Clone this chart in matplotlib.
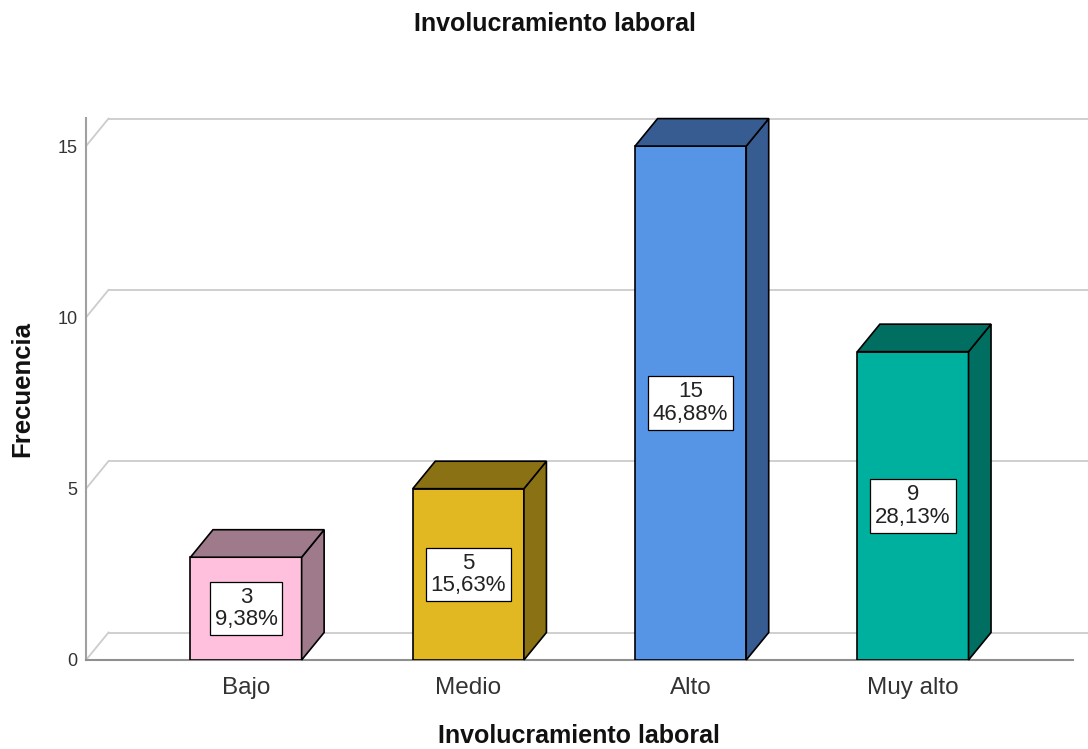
# Involucramiento laboral - Balkendiagramm im SPSS-3D-Stil
import matplotlib.pyplot as plt
from matplotlib.patches import Polygon

plt.rcParams['font.family'] = ['Liberation Sans', 'DejaVu Sans']

# Daten:
categorias = ['Bajo', 'Medio', 'Alto', 'Muy alto']
frecuencias = [3, 5, 15, 9]
porcentajes = ['9,38%', '15,63%', '46,88%', '28,13%']
frente = ['#FFC0DE', '#E1B822', '#5695E5', '#00B09E']
lado = ['#9E7A8A', '#8A7114', '#375C91', '#006E61']
yticks = [0, 5, 10, 15]

W, H = 1088, 749
fig = plt.figure(figsize=(W / 100, H / 100), dpi=100)
ax = fig.add_axes([86 / W, 89 / H, 987 / W, 542 / H])
xmin, xmax = -0.72, 3.72
ymin, ymax = 0, 15.82
ax.set_xlim(xmin, xmax)
ax.set_ylim(ymin, ymax)

# Tiefe (Pixel -> Datenkoordinaten)
px_x = 987 / (xmax - xmin)
px_y = 542 / (ymax - ymin)
dx = 22.5 / px_x
dy = 27.5 / px_y

# Rueckwand-Gitter
gris = '#CCCCCC'
for v in yticks:
    ax.plot([xmin + dx, xmax + dx + 1], [v + dy, v + dy], color=gris, lw=1.3,
            clip_on=False, zorder=1)
    ax.plot([xmin, xmin + dx], [v, v + dy], color=gris, lw=1.3,
            clip_on=False, zorder=1)

# Achsenlinien vorne
ax.plot([xmin, xmin], [0, ymax], color='#A0A0A0', lw=1.5, clip_on=False, zorder=2)
ax.plot([xmin, xmax], [0, 0], color='#909090', lw=1.5, clip_on=False, zorder=2)

ancho = 0.5
for i, (h, c1, c2) in enumerate(zip(frecuencias, frente, lado)):
    x0, x1 = i - ancho / 2, i + ancho / 2
    ax.bar(i, h, width=ancho, color=c1, edgecolor='black', linewidth=1.2, zorder=3)
    lado_pts = [(x1, 0), (x1 + dx, dy), (x1 + dx, h + dy), (x1, h)]
    techo_pts = [(x0, h), (x0 + dx, h + dy), (x1 + dx, h + dy), (x1, h)]
    for pts in (lado_pts, techo_pts):
        ax.add_patch(Polygon(pts, closed=True, facecolor=c2, edgecolor='black',
                             linewidth=1.2, zorder=3, clip_on=False))
    ax.text(i, h / 2, f'{h}\n{porcentajes[i]}', ha='center', va='center',
            fontsize=16, color='#222222', linespacing=1.1, zorder=5,
            bbox=dict(boxstyle='square,pad=0.22', facecolor='white',
                      edgecolor='black', linewidth=0.9))

for s in ax.spines.values():
    s.set_visible(False)
ax.set_xticks(range(len(categorias)))
ax.set_xticklabels(categorias, fontsize=17.5, color='#333333')
ax.set_yticks(yticks)
ax.set_yticklabels([str(t) for t in yticks], fontsize=13, color='#333333')
ax.tick_params(axis='x', length=0, pad=12)
ax.tick_params(axis='y', length=0, pad=6)
ax.patch.set_visible(False)

fig.text(554.5 / W, 1 - 24 / H, 'Involucramiento laboral', ha='center', va='center',
         fontsize=18, fontweight='bold', color='#111111')
fig.text(579 / W, 1 - 736 / H, 'Involucramiento laboral', ha='center', va='center',
         fontsize=18, fontweight='bold', color='#111111')
fig.text(22 / W, 1 - 389 / H, 'Frecuencia', ha='center', va='center', rotation=90,
         fontsize=18.5, fontweight='bold', color='#111111')

fig.savefig('out.png', dpi=100)
